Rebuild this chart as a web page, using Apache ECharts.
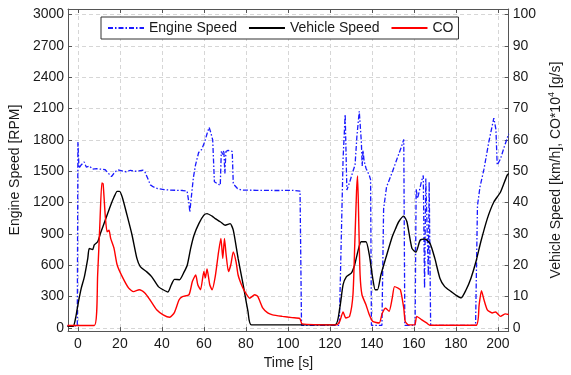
<!DOCTYPE html>
<html>
<head>
<meta charset="utf-8">
<script src="https://cdn.jsdelivr.net/npm/echarts@6/dist/echarts.min.js"></script>
<style>
  html, body { margin: 0; padding: 0; background: #fff; }
  #chart { width: 571px; height: 375px; }
</style>
</head>
<body>
<div id="chart"></div>
<script>
// Drive-cycle record: engine speed, vehicle speed and CO emission over time.
const seriesNames = ['Engine Speed', 'Vehicle Speed', 'CO'];

const timeTicks = [0, 20, 40, 60, 80, 100, 120, 140, 160, 180, 200];
const rpmTicks = [0, 300, 600, 900, 1200, 1500, 1800, 2100, 2400, 2700, 3000];
const speedTicks = [0, 10, 20, 30, 40, 50, 60, 70, 80, 90, 100];

// Engine speed [RPM]
const engineTime = [-5, -0.3, 0, 0.5, 1.5, 3, 4, 5.5, 7, 9, 11, 13, 15, 16, 17.5, 19, 21, 23, 25, 27, 29, 31, 32, 33.5, 34.5, 36, 38, 41, 44, 47, 50, 52, 52.8, 53.3, 54, 55, 56, 57.5, 59, 60.5, 61.5, 62.5, 63.3, 64.2, 65, 67.8, 68.3, 69, 69.5, 70, 70.5, 71.5, 72.5, 73.5, 74, 76, 78, 85, 95, 102, 105.8, 106.5, 124.5, 126.3, 127.3, 128.1, 129.5, 131, 132, 132.9, 134, 134.6, 135, 135.4, 135.8, 136.3, 137.2, 138.8, 139.4, 139.8, 144.8, 145.6, 147, 149.7, 152, 154, 155.2, 155.7, 160.6, 161.1, 161.8, 163.6, 164.5, 165.1, 165.7, 166.5, 166.9, 167.3, 168, 189.4, 190.3, 191.5, 193.4, 195.7, 198.1, 199.1, 199.7, 201.3, 203, 205.2];
const engineRpm = [20, 20, 1780, 1530, 1560, 1590, 1540, 1550, 1520, 1525, 1520, 1515, 1470, 1450, 1490, 1515, 1505, 1495, 1510, 1500, 1505, 1510, 1490, 1420, 1370, 1350, 1335, 1325, 1320, 1318, 1316, 1310, 1210, 1110, 1250, 1440, 1560, 1680, 1710, 1790, 1860, 1920, 1870, 1800, 1400, 1365, 1690, 1660, 1700, 1480, 1690, 1700, 1695, 1690, 1380, 1335, 1320, 1318, 1316, 1318, 1310, 25, 25, 1620, 2045, 1320, 1400, 1500, 1560, 1840, 2075, 1900, 1780, 1550, 1700, 1600, 1530, 1460, 1420, 25, 25, 1140, 1350, 1490, 1620, 1730, 1805, 25, 25, 1330, 1240, 1400, 1460, 380, 1430, 1440, 500, 1400, 25, 25, 1170, 1350, 1520, 1780, 2010, 1900, 1560, 1620, 1730, 1860];

// Vehicle speed [km/h]
const vehicleTime = [-5, -2.3, -1, 0, 1.6, 3.1, 4.7, 5.4, 7, 7.8, 9.4, 11, 13.3, 15.6, 17.2, 18.7, 19.8, 21.1, 23.4, 25.8, 28.1, 29.7, 32.8, 35.1, 38.3, 40.6, 42.9, 44.5, 46, 48.4, 50.6, 52.1, 53.7, 55.3, 57.6, 60, 61.5, 63.9, 65.4, 67.8, 70.1, 72.5, 74, 76.3, 78.7, 81, 82.6, 122.5, 124.7, 126.3, 127.9, 130.2, 131.8, 133.3, 134.9, 137.2, 138.8, 140.4, 141.6, 142.7, 144.3, 146.6, 149.7, 151.3, 152.8, 155.2, 156.7, 159.1, 161, 163, 165.3, 167.7, 170, 172.4, 174.7, 177.8, 180.2, 182.5, 184.9, 187.2, 189.6, 191.9, 195, 198.1, 201.3, 204.4, 205.2];
const vehicleSpeed = [0.5, 0.5, 3.5, 7.4, 12.7, 16.4, 22.2, 25.4, 25, 26.5, 27.5, 30.7, 34.9, 39.2, 41.8, 43.6, 43.6, 41.8, 36, 29.6, 22.2, 19.6, 17.9, 16.4, 13.2, 12.2, 11.5, 13.8, 15.5, 15.4, 17.9, 20.1, 25.4, 29.6, 33.3, 36, 36.5, 35.7, 34.9, 33.9, 32.8, 33.3, 31.2, 22.2, 13.8, 5.3, 1.0, 1.0, 6.3, 13.8, 16.4, 17.5, 20.1, 24.3, 27.5, 27.5, 23.3, 15.9, 12.2, 12.2, 16.9, 22.2, 29.1, 31.7, 33.9, 35.7, 33.9, 25.4, 24.2, 28, 28.4, 27, 22.2, 15.9, 13.2, 11.6, 10.4, 9.6, 12.2, 15.9, 21.2, 27.5, 34.9, 40.2, 43.4, 48.7, 49.3];

// CO emission x 10^4 [g/s]
const coTime = [-5, 7.8, 9.4, 10.5, 11.4, 12, 13, 13.9, 14.8, 15.6, 17.2, 18.7, 21.1, 24.2, 26.5, 29.2, 32, 34.3, 37.5, 40.6, 43.7, 46, 48.2, 49.8, 52.9, 54.5, 56.1, 57.1, 58.4, 60, 60.7, 61.5, 62.8, 63.9, 65.4, 67, 68.1, 69, 69.8, 70.6, 71.7, 72.8, 74, 75.3, 76.3, 77.9, 79.5, 81.8, 84.2, 85.7, 88.1, 90.4, 92.7, 97.4, 102, 105.7, 106.8, 123.2, 124.7, 126.3, 127.6, 129.4, 131, 131.9, 132.7, 133.2, 133.8, 134.4, 135.3, 137.2, 138.8, 140.4, 143.5, 145, 146.6, 148.2, 149.7, 150.8, 152.5, 153.6, 155.2, 155.9, 157.5, 160.4, 161.4, 163.8, 166.1, 167.7, 189.6, 191.1, 192.2, 193.4, 195, 197.3, 198.9, 201.3, 203.6, 205.2];
const coValue = [0.8, 0.8, 16.9, 33.9, 46.3, 46, 36, 30.7, 31.2, 28.6, 25.4, 20.1, 16.4, 12.7, 11.6, 12.2, 11.1, 9, 5.8, 4.2, 3.4, 5.0, 9, 10, 10.6, 14.8, 16.9, 13.8, 12.2, 18, 16, 18.8, 13.8, 12.2, 16.4, 24.3, 28.6, 22.2, 28.6, 23.3, 18, 20.1, 24.3, 21.2, 16.9, 13.8, 11.6, 9.5, 10.6, 10, 6.3, 4.8, 4.2, 3.7, 3.3, 3.0, 1.3, 1.0, 2.1, 5.1, 3.2, 3.7, 10.6, 27.5, 43.4, 48.5, 32.8, 17, 10.6, 7.4, 4.2, 2.1, 1.6, 4.8, 6.3, 5.3, 9.5, 13.2, 12.7, 12.2, 6.3, 2.1, 1.0, 1.0, 3.7, 2.6, 1.6, 0.85, 0.85, 7.4, 11.9, 9, 5.8, 4.8, 5.1, 3.7, 4.5, 4.3];

const pairs = (xs, ys) => xs.map((x, i) => [x, ys[i]]);
const plain = v => String(v);

const FONT = 'Liberation Sans, Arial, Helvetica, sans-serif';
const AXIS_COLOR = '#555';
const TEXT_COLOR = '#1a1a1a';
const GRID_LINE = { show: true, lineStyle: { color: '#d6d6d6', type: [4, 3], width: 1 } };

const chart = echarts.init(document.getElementById('chart'), null, { renderer: 'canvas' });

chart.setOption({
  animation: false,
  backgroundColor: '#fff',
  textStyle: { fontFamily: FONT },
  grid: { left: 67, right: 56, top: 9, bottom: 42, containLabel: false },
  legend: {
    left: 101,
    top: 17,
    itemWidth: 36,
    itemHeight: 14,
    itemGap: 11,
    padding: [4, 5, 4, 6],
    borderColor: '#333',
    borderWidth: 1,
    borderRadius: 0,
    backgroundColor: '#fff',
    itemStyle: { opacity: 0 },
    textStyle: { fontSize: 14, color: TEXT_COLOR, fontFamily: FONT },
    data: seriesNames
  },
  xAxis: [
    {
      type: 'value',
      min: -4.7,
      max: 205.2,
      position: 'bottom',
      name: 'Time [s]',
      nameLocation: 'middle',
      nameGap: 24,
      nameTextStyle: { fontSize: 14, color: TEXT_COLOR },
      axisLine: { show: true, onZero: false, lineStyle: { color: AXIS_COLOR, width: 1 } },
      axisTick: { show: true, inside: true, length: 4, customValues: timeTicks, lineStyle: { color: AXIS_COLOR } },
      axisLabel: { fontSize: 14, color: TEXT_COLOR, margin: 6, customValues: timeTicks, formatter: plain },
      splitLine: GRID_LINE
    },
    {
      type: 'value',
      min: -4.7,
      max: 205.2,
      position: 'top',
      axisLine: { show: true, onZero: false, lineStyle: { color: AXIS_COLOR, width: 1 } },
      axisTick: { show: true, inside: true, length: 4, customValues: timeTicks, lineStyle: { color: AXIS_COLOR } },
      axisLabel: { show: false },
      splitLine: { show: false }
    }
  ],
  yAxis: [
    {
      type: 'value',
      min: -30,
      max: 3054,
      position: 'left',
      name: 'Engine Speed [RPM]',
      nameLocation: 'middle',
      nameGap: 38,
      nameRotate: 90,
      nameTextStyle: { fontSize: 14, color: TEXT_COLOR },
      axisLine: { show: true, onZero: false, lineStyle: { color: AXIS_COLOR, width: 1 } },
      axisTick: { show: true, inside: true, length: 4, customValues: rpmTicks, lineStyle: { color: AXIS_COLOR } },
      axisLabel: { fontSize: 14, color: TEXT_COLOR, margin: 4, customValues: rpmTicks, formatter: plain },
      splitLine: GRID_LINE
    },
    {
      type: 'value',
      min: -1,
      max: 101.8,
      position: 'right',
      name: '{a|Vehicle Speed [km/h], CO*10}{s|4}{a| [g/s]}',
      nameLocation: 'middle',
      nameGap: 37,
      nameRotate: 90,
      nameTextStyle: {
        fontSize: 14,
        color: TEXT_COLOR,
        rich: {
          a: { fontSize: 14, color: TEXT_COLOR, fontFamily: FONT, lineHeight: 16, verticalAlign: 'bottom' },
          s: { fontSize: 9, color: TEXT_COLOR, fontFamily: FONT, lineHeight: 16, verticalAlign: 'top' }
        }
      },
      axisLine: { show: true, onZero: false, lineStyle: { color: AXIS_COLOR, width: 1 } },
      axisTick: { show: true, inside: true, length: 4, customValues: speedTicks, lineStyle: { color: AXIS_COLOR } },
      axisLabel: { fontSize: 14, color: TEXT_COLOR, margin: 4, customValues: speedTicks, formatter: plain },
      splitLine: { show: false }
    }
  ],
  series: [
    {
      name: seriesNames[0],
      type: 'line',
      xAxisIndex: 0,
      yAxisIndex: 0,
      data: pairs(engineTime, engineRpm),
      symbol: 'none',
      lineStyle: { color: '#1a1aff', width: 1.3, type: [5, 2, 1.5, 2] },
      itemStyle: { color: '#1a1aff' },
      z: 2
    },
    {
      name: seriesNames[1],
      type: 'line',
      xAxisIndex: 0,
      yAxisIndex: 1,
      data: pairs(vehicleTime, vehicleSpeed),
      symbol: 'none',
      smooth: 0.2,
      lineStyle: { color: '#000', width: 1.4 },
      itemStyle: { color: '#000' },
      z: 3
    },
    {
      name: seriesNames[2],
      type: 'line',
      xAxisIndex: 0,
      yAxisIndex: 1,
      data: pairs(coTime, coValue),
      symbol: 'none',
      smooth: 0.2,
      lineStyle: { color: '#ff0000', width: 1.4 },
      itemStyle: { color: '#ff0000' },
      z: 4
    }
  ]
});
</script>
</body>
</html>
